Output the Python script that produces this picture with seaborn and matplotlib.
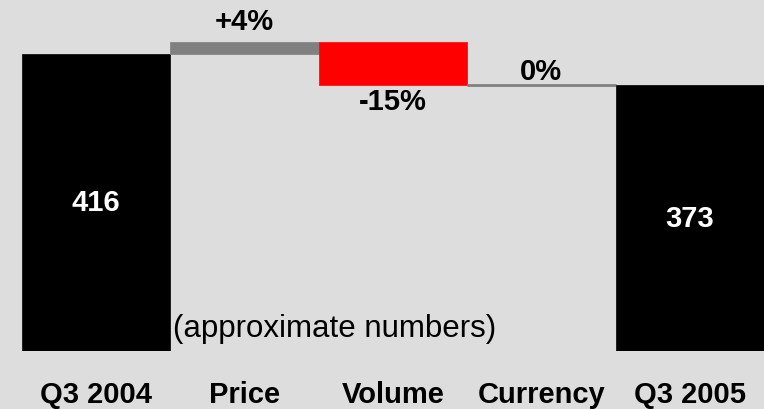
import matplotlib.pyplot as plt
import pandas as pd
import seaborn as sns

# waterfall data: first/last are totals, the middle ones are changes
categories = ['Q3 2004', 'Price', 'Volume', 'Currency', 'Q3 2005']
values = [416, 17, -60, 0, 373]
value_labels = ['416', '+4%', '-15%', '0%', '373']
is_total = [True, False, False, False, True]
bar_colors = ['#000000', '#808080', '#ff0000', '#808080', '#000000']

bg = '#dddddd'

# work out bottoms/heights for the floating bars
bottoms, heights = [], []
running = 0
for v, tot in zip(values, is_total):
    if tot:
        bottoms.append(0)
        heights.append(v)
        running = v
    else:
        bottoms.append(running + min(v, 0))
        heights.append(abs(v))
        running += v

df = pd.DataFrame({'step': categories, 'bottom': bottoms, 'height': heights,
                   'color': bar_colors, 'label': value_labels, 'value': values,
                   'total': is_total})

sns.set_theme(style='white')
plt.rcParams['font.family'] = ['Liberation Sans', 'DejaVu Sans']

fig = plt.figure(figsize=(7.64, 4.10), dpi=100, facecolor=bg)
ax = fig.add_axes([0, 0.1415, 1, 0.8585])
ax.set_facecolor(bg)

for _, row in df.iterrows():
    lw = 2 if row['height'] == 0 else 0.5
    sns.barplot(x=[row['step']], y=[row['height']], bottom=row['bottom'],
                order=categories, color=row['color'], saturation=1, width=1.0,
                errorbar=None, edgecolor=row['color'], linewidth=lw, ax=ax)

ax.set_xlim(-0.648, 4.5)
ax.set_ylim(0, 493)

# value labels
for i, row in df.iterrows():
    if row['total']:
        ax.text(i, row['height'] / 2, row['label'], ha='center', va='center',
                color='white', fontsize=21, fontweight='bold')
    elif row['value'] > 0:
        ax.annotate(row['label'], (i, row['bottom'] + row['height']), xytext=(0, 15),
                    textcoords='offset points', ha='center', va='center',
                    fontsize=21, fontweight='bold', color='black')
    elif row['value'] < 0:
        ax.annotate(row['label'], (i, row['bottom']), xytext=(0, -12),
                    textcoords='offset points', ha='center', va='center',
                    fontsize=21, fontweight='bold', color='black')
    else:
        ax.annotate(row['label'], (i, row['bottom']), xytext=(0, 10),
                    textcoords='offset points', ha='center', va='center',
                    fontsize=21, fontweight='bold', color='black')

ax.annotate('(approximate numbers)', (0.5, 0), xytext=(2, 16.5),
            textcoords='offset points', ha='left', va='center',
            fontsize=22.5, color='black')

ax.set_xlabel('')
ax.set_ylabel('')
ax.set_yticks([])
ax.tick_params(axis='x', length=0, pad=21, labelsize=21, labelcolor='black')
for t in ax.get_xticklabels():
    t.set_fontweight('bold')
sns.despine(ax=ax, left=True, bottom=True)

plt.savefig('out.png', dpi=100, facecolor=bg)
